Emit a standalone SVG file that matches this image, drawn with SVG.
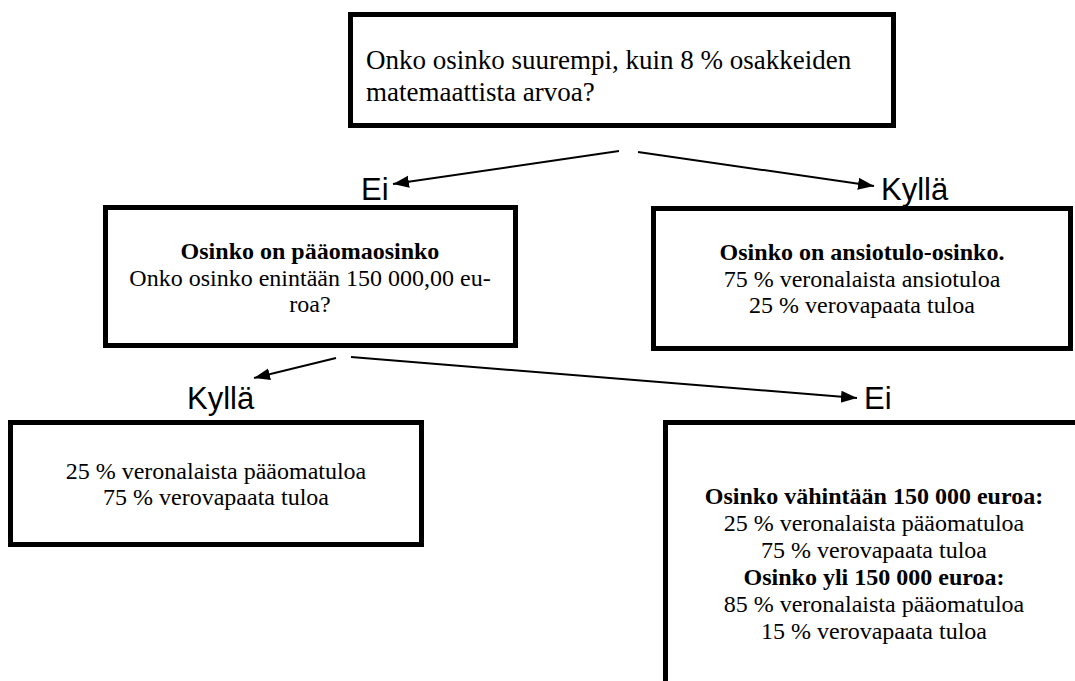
<svg xmlns="http://www.w3.org/2000/svg" width="1075" height="681" viewBox="0 0 1075 681">
<style>
.box{fill:#fff;stroke:#000;stroke-width:5}
.t{font-family:"Liberation Serif","Times New Roman",serif;font-size:24px;fill:#000}
.tt{font-family:"Liberation Serif","Times New Roman",serif;font-size:27px;fill:#000}
.b{font-weight:bold}
.c{text-anchor:middle}
.lbl{font-family:"Liberation Sans",Arial,sans-serif;font-size:31px;fill:#000}
.con{stroke:#000;stroke-width:2;fill:none;marker-end:url(#ah)}
</style>
<defs>
<marker id="ah" markerUnits="userSpaceOnUse" markerWidth="18" markerHeight="14" refX="16" refY="6" orient="auto">
<path d="M0,0 L16,6 L0,12 Z" fill="#000"/>
</marker>
</defs>
<rect width="1075" height="681" fill="#fff"/>
<g id="connectors">
<line class="con" x1="619" y1="151" x2="393" y2="184"/>
<line class="con" x1="638" y1="152" x2="874" y2="186"/>
<line class="con" x1="336" y1="358" x2="254" y2="378"/>
<line class="con" x1="351" y1="357" x2="857" y2="398"/>
</g>
<g id="labels">
<text class="lbl" x="361" y="200">Ei</text>
<text class="lbl" x="881" y="200">Kyllä</text>
<text class="lbl" x="187" y="409">Kyllä</text>
<text class="lbl" x="864" y="409">Ei</text>
</g>
<g id="n-top">
<rect class="box" x="350.5" y="14.5" width="543" height="111"/>
<text class="tt" x="366" y="69">Onko osinko suurempi, kuin 8 % osakkeiden</text>
<text class="tt" x="366" y="101">matemaattista arvoa?</text>
</g>
<g id="n-paaoma">
<rect class="box" x="105.5" y="207.5" width="410" height="138"/>
<text class="t c b" x="310" y="259">Osinko on pääomaosinko</text>
<text class="t c" x="310" y="286">Onko osinko enintään 150 000,00 eu-</text>
<text class="t c" x="310" y="312">roa?</text>
</g>
<g id="n-ansio">
<rect class="box" x="653.5" y="208.5" width="417" height="140"/>
<text class="t c b" x="862" y="260">Osinko on ansiotulo-osinko.</text>
<text class="t c" x="862" y="287">75 % veronalaista ansiotuloa</text>
<text class="t c" x="862" y="313">25 % verovapaata tuloa</text>
</g>
<g id="n-kylla">
<rect class="box" x="10.5" y="422.5" width="411" height="122"/>
<text class="t c" x="216" y="479">25 % veronalaista pääomatuloa</text>
<text class="t c" x="216" y="505">75 % verovapaata tuloa</text>
</g>
<g id="n-ei">
<rect class="box" x="665.5" y="422.5" width="450" height="300"/>
<text class="t c b" x="874" y="504">Osinko vähintään 150 000 euroa:</text>
<text class="t c" x="874" y="531">25 % veronalaista pääomatuloa</text>
<text class="t c" x="874" y="558">75 % verovapaata tuloa</text>
<text class="t c b" x="874" y="585">Osinko yli 150 000 euroa:</text>
<text class="t c" x="874" y="612">85 % veronalaista pääomatuloa</text>
<text class="t c" x="874" y="639">15 % verovapaata tuloa</text>
</g>
</svg>
